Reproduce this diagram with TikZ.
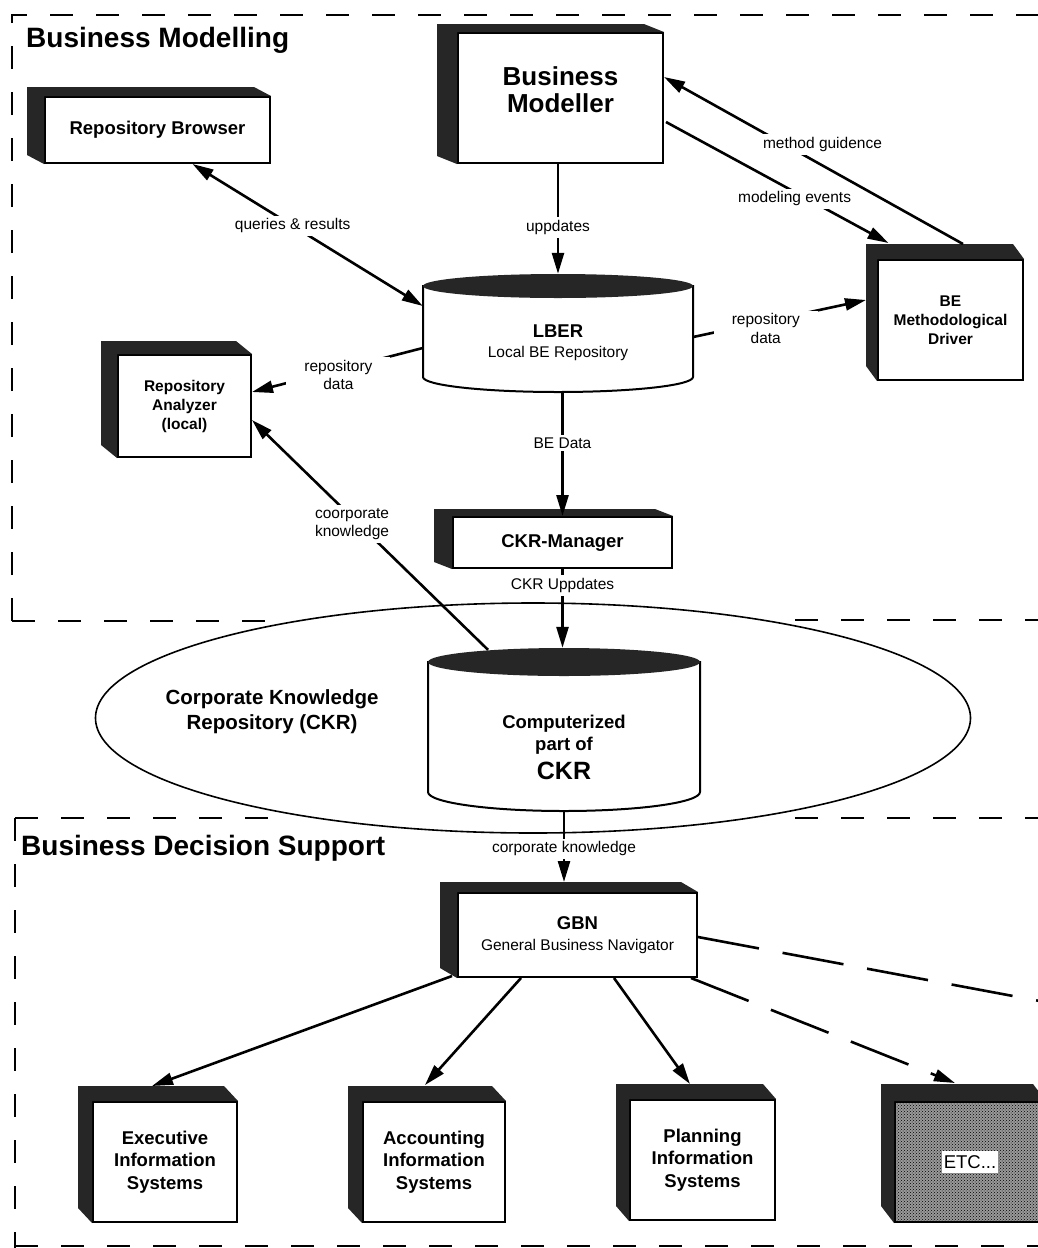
\documentclass[tikz,border=0pt]{standalone}
\usepackage{fontspec}
\setmainfont{Liberation Sans}
\usetikzlibrary{arrows.meta,calc,shapes.geometric,patterns}

% dark top/left extrusion of a raised box (node name, dx, dy)
\newcommand\boxshade[3]{%
  \fill[shade3d] ($(#1.north west)+(-#2,-#3)$) -- ($(#1.north east)+(-#2,-#3)$)
    -- (#1.north east) -- (#1.north west) -- (#1.south west)
    -- ($(#1.south west)+(-#2,-#3)$) -- cycle;}

\begin{document}
\begin{tikzpicture}[x=1pt,y=-1pt,
  shade3d/.style={fill=black!85},
  front/.style={draw, line width=2pt, fill=white, inner sep=0pt, align=center},
  ghost/.style={draw=none, inner sep=0pt},
  t26b/.style={font=\fontsize{26}{27}\selectfont\bfseries},
  t18b/.style={font=\fontsize{18.5}{22.5}\selectfont\bfseries},
  t15b/.style={font=\fontsize{15.5}{19}\selectfont\bfseries},
  title/.style={font=\fontsize{28}{30}\selectfont\bfseries, inner sep=0pt},
  lbl/.style={fill=white, inner sep=3pt, align=center, font=\fontsize{15.5}{18.5}\selectfont},
  widelbl/.style={lbl, inner xsep=18pt},
  tip/.style={-{Triangle[length=21pt,width=12pt]}},
  arr/.style={line width=2.6pt, tip},
  darr/.style={line width=2.6pt, {Triangle[length=21pt,width=12pt]}-{Triangle[length=21pt,width=12pt]}},
  dasharr/.style={line width=2.6pt, dash pattern=on 62pt off 24pt},
  frame/.style={line width=2pt, dash pattern=on 23pt off 23pt},
  drum/.style={line width=2pt, fill=white},
]
\useasboundingbox (0,0) rectangle (1038,1248);
\fill[white] (0,0) rectangle (1038,1248);

% ---- dashed area frames ----
\draw[frame] (12,621) -- (12,15) -- (1040,15);
\draw[frame] (12,621) -- (268,621);
\draw[frame] (795,620) -- (1040,620);
\draw[frame] (15,818) -- (15,1250);
\draw[frame] (15,818) -- (268,818);
\draw[frame] (795,818) -- (1040,818);
\draw[frame] (15,1246) -- (1040,1246);

\node[title, anchor=base west] (bmtitle) at (26,47) {Business Modelling};
\node[title, anchor=base west] (bdstitle) at (21,855) {Business Decision Support};

% ---- corporate knowledge repository zone ----
\node[draw, ellipse, line width=1.6pt, minimum width=875pt, minimum height=230pt, inner sep=0pt] (zone) at (533,718) {};
\node[align=center, font=\fontsize{20.5}{25}\selectfont\bfseries] (zonetext) at (272,712) {Corporate Knowledge\\Repository (CKR)};

% ---- repositories (cylinders) ----
\filldraw[drum] (423,286) -- (423,377) arc[start angle=180, end angle=0, x radius=135, y radius=15] -- (693,286) -- cycle;
\fill[shade3d] (558,286) ellipse[x radius=135, y radius=12];
\node[ghost, minimum width=270pt, minimum height=118pt] (lber) at (558,333) {};
\node[align=center, font=\fontsize{15.5}{20}\selectfont] (lbertext) at (558,343)
  {{\fontsize{18.5}{20}\selectfont\bfseries LBER}\\Local BE Repository};

\filldraw[drum] (428,662) -- (428,792) arc[start angle=180, end angle=0, x radius=136, y radius=19] -- (700,662) -- cycle;
\fill[shade3d] (564,662) ellipse[x radius=136, y radius=14];
\node[ghost, minimum width=272pt, minimum height=163pt] (ckr) at (564,729.5) {};
\node[align=center, font=\fontsize{18.5}{22}\selectfont\bfseries] (ckrtext) at (564,747)
  {Computerized\\part of\\[7pt]{\fontsize{25}{30}\selectfont CKR}};

% ---- raised boxes ----
\node[front, t18b, minimum width=225pt, minimum height=66pt] (rb) at (157.5,130) {Repository Browser};
\boxshade{rb}{17}{9}
\node[front, minimum width=205pt, minimum height=130pt] (bm) at (560.5,98) {};
\boxshade{bm}{20}{8}
\node[t26b, align=center] (bmtext) at ($(bm.center)+(0,-8)$) {Business\\Modeller};
\node[front, t15b, minimum width=145pt, minimum height=120pt] (bed) at (950.5,320) {BE\\Methodological\\Driver};
\boxshade{bed}{11}{15}
\node[front, t15b, minimum width=133pt, minimum height=102pt] (ra) at (184.5,406) {Repository\\Analyzer\\(local)};
\boxshade{ra}{16}{13}
\node[front, t18b, minimum width=219pt, minimum height=51pt] (ckrm) at (562.5,542.5) {CKR-Manager};
\boxshade{ckrm}{18}{7}
\node[front, minimum width=239pt, minimum height=84pt, font=\fontsize{15.5}{21}\selectfont] (gbn) at (577.5,935)
  {{\fontsize{18.5}{20}\selectfont\bfseries GBN}\\General Business Navigator};
\boxshade{gbn}{17}{10}
\node[front, t18b, minimum width=144pt, minimum height=120pt] (eis) at (165,1162) {Executive\\Information\\Systems};
\boxshade{eis}{14}{15}
\node[front, t18b, minimum width=142pt, minimum height=120pt] (ais) at (434,1162) {Accounting\\Information\\Systems};
\boxshade{ais}{14}{15}
\node[front, t18b, minimum width=145pt, minimum height=120pt] (pis) at (702.5,1160) {Planning\\Information\\Systems};
\boxshade{pis}{13}{15}
\node[draw, line width=2pt, inner sep=0pt, minimum width=150pt, minimum height=120pt,
      preaction={fill=black!40}, pattern=crosshatch dots, pattern color=black] (etc) at (970,1162) {};
\boxshade{etc}{13}{17}
\node[fill=white, inner xsep=2pt, inner ysep=4pt, font=\fontsize{18.5}{20}\selectfont] (etctext) at (etc.center) {ETC...};

% ---- connectors: business modelling ----
\draw[darr] ($(rb.south)+(35,0)$) -- ($(lber.west)+(0,-27)$)
  node[lbl, pos=.435] (qlbl) {queries \& results};
\draw[arr] (bm.south -| lber.north) -- (lber.north)
  node[lbl, pos=.58] (ulbl) {uppdates};
\draw[arr] ($(bed.north)+(12.5,-15)$) -- ($(bm.east)+(0,-21)$)
  node[lbl, pos=.47, yshift=21pt] (mglbl) {method guidence};
\draw[arr] ($(bm.east)+(2,24)$) -- ($(bed.north)+(-62,-16)$)
  node[lbl, pos=.578, yshift=-7pt] (melbl) {modeling events};
\draw[arr] ($(lber.east)+(0,4)$) -- ($(bed.west)+(-11,-20)$)
  node[widelbl, pos=.42, yshift=-7pt] (rdrlbl) {repository\\data};
\draw[arr] ($(lber.west)+(0,15)$) -- ($(ra.east)+(0,-14)$)
  node[widelbl, pos=.494, yshift=-5pt] (rdllbl) {repository\\data};
\draw[arr] ($(ckr.north)+(-76,2)$) -- ($(ra.east)+(0,14)$)
  node[lbl, pos=.576, yshift=-6.5pt] (cklbl) {coorporate\\knowledge};
\draw[arr] (lber.south -| ckrm.north) -- (ckrm.north)
  node[lbl, pos=.41] (bedlbl) {BE Data};
\draw[arr] (ckrm.south) -- (ckrm.south |- ckr.north)
  node[lbl, pos=.21] (culbl) {CKR Uppdates};
\draw[arr] (ckr.south) -- ($(ckr.south |- gbn.north)+(0,-10)$)
  node[lbl, pos=.53] (cklbl2) {corporate knowledge};

% ---- connectors: business decision support ----
\coordinate (offright) at (1045,1002);
\draw[arr] ($(gbn.south west)+(-5,-2)$) -- ($(eis.north)+(-13,-15)$);
\draw[arr] ($(gbn.south west)+(64,0)$) -- ($(ais.north)+(-9,-16)$);
\draw[arr] ($(gbn.south west)+(157,0)$) -- ($(pis.north)+(-12.5,-15)$);
\draw[dasharr, tip] ($(gbn.south east)+(-7,0)$) -- ($(etc.north)+(-15,-18)$);
\draw[dasharr] ($(gbn.east)+(0,2)$) -- (offright);
\end{tikzpicture}
\end{document}
